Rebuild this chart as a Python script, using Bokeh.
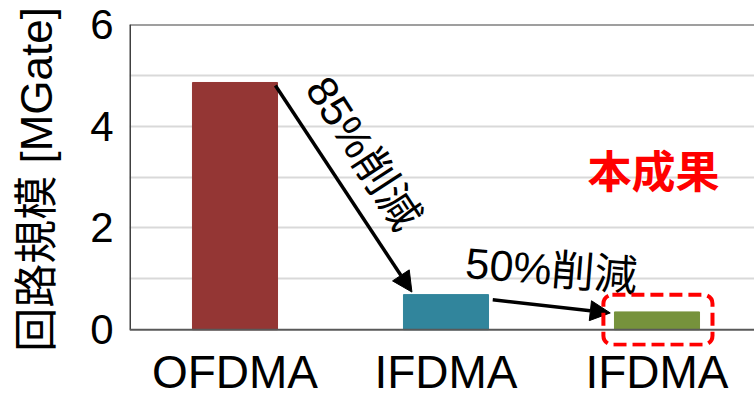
from bokeh.plotting import figure
from bokeh.models import (Range1d, FixedTicker, Span, Arrow, NormalHead, Label,
                          BoxAnnotation, ColumnDataSource)
from bokeh.embed import file_html
from bokeh.resources import INLINE

# ---- data ----
categories = ["OFDMA", "IFDMA", "IFDMA"]
values = [4.86, 0.69, 0.35]
colors = ["#943634", "#31859C", "#76923C"]
y_ticks = [0, 2, 4, 6]
grid_ticks = [1, 2, 3, 4, 5]
y_title = "回路規模 [MGate]"
reduction_labels = ["85%削減", "50%削減"]
highlight_label = "本成果"

FONT = "Liberation Sans, Noto Sans CJK JP"

x_pos = [i + 0.5 for i in range(len(categories))]
bar_w = 0.403
y_min, y_max = -0.33, 6

p = figure(width=754, height=400, output_backend="svg", toolbar_location=None,
           x_range=Range1d(0, 625 / 211), y_range=Range1d(y_min, y_max))
p.min_border_left = 129
p.min_border_top = 24
p.min_border_bottom = 53
p.min_border_right = 0
p.outline_line_color = None
p.background_fill_color = "white"
p.border_fill_color = "white"

src = ColumnDataSource(dict(x=x_pos, top=values, color=colors))
p.vbar(x="x", top="top", width=bar_w, bottom=0, color="color", source=src)

# y axis
p.yaxis.ticker = FixedTicker(ticks=y_ticks)
p.ygrid.ticker = FixedTicker(ticks=grid_ticks)
p.ygrid.grid_line_color = "#d9d9d9"
p.ygrid.grid_line_width = 2
p.xgrid.grid_line_color = None
p.yaxis.major_tick_line_color = None
p.yaxis.minor_tick_line_color = None
p.yaxis.axis_line_color = None
p.yaxis.major_label_text_font = FONT
p.yaxis.major_label_text_font_size = "42px"
p.yaxis.major_label_text_color = "black"
p.yaxis.major_label_standoff = 10
# a leading no-break space only nudges the centred title upward a little
p.yaxis.axis_label = "\u00a0" + y_title
p.yaxis.axis_label_text_font = FONT
p.yaxis.axis_label_text_font_size = "44px"
p.yaxis.axis_label_text_font_style = "normal"
p.yaxis.axis_label_text_color = "black"
p.yaxis.axis_label_standoff = 26

# y axis line from 0 to max, x axis line at 0, top border at max
p.segment(x0=[0], y0=[0], x1=[0], y1=[y_max], line_color="#404040", line_width=3)
p.add_layout(Span(location=0, dimension="width", line_color="#595959", line_width=2))
p.add_layout(Span(location=y_max, dimension="width", line_color="#404040", line_width=2))

# x axis
p.xaxis.ticker = FixedTicker(ticks=x_pos)
p.xaxis.major_label_overrides = {x: c for x, c in zip(x_pos, categories)}
p.xaxis.major_tick_line_color = None
p.xaxis.minor_tick_line_color = None
p.xaxis.axis_line_color = None
p.xaxis.major_label_text_font = FONT
p.xaxis.major_label_text_font_size = "46px"
p.xaxis.major_label_text_color = "black"
p.xaxis.major_label_standoff = -7

# arrows (derived from bar positions)
a1 = Arrow(end=NormalHead(size=20, fill_color="black", line_color="black"),
           x_start=x_pos[0] + bar_w / 2 - 0.01, y_start=values[0] - 0.06,
           x_end=x_pos[1] - bar_w / 2 + 0.04, y_end=values[1] + 0.05,
           line_width=3.5, line_color="black")
a2 = Arrow(end=NormalHead(size=20, fill_color="black", line_color="black"),
           x_start=x_pos[1] + bar_w / 2 + 0.02, y_start=values[1] - 0.1,
           x_end=x_pos[2] - bar_w / 2 - 0.02, y_end=values[2] - 0.02,
           line_width=3.5, line_color="black")
p.add_layout(a1)
p.add_layout(a2)

p.add_layout(Label(x=1.11, y=3.47, text=reduction_labels[0], angle=-0.995,
                   text_align="center", text_baseline="middle",
                   text_font=FONT, text_font_size="43px", text_color="black"))
p.add_layout(Label(x=2.0, y=1.18, text=reduction_labels[1], angle=-0.08,
                   text_align="center", text_baseline="middle",
                   text_font=FONT, text_font_size="43px", text_color="black"))
p.add_layout(Label(x=2.483, y=3.10, text=highlight_label,
                   text_align="center", text_baseline="middle",
                   text_font=FONT, text_font_size="44px", text_font_style="bold",
                   text_color="red"))

p.add_layout(BoxAnnotation(left=2.246, right=2.763, top=0.686, bottom=-0.294,
                           fill_color=None, fill_alpha=0, line_color="red",
                           line_alpha=1, line_width=4, line_dash="13 6",
                           border_radius=9))

open("out.html", "w").write(file_html(p, INLINE))
